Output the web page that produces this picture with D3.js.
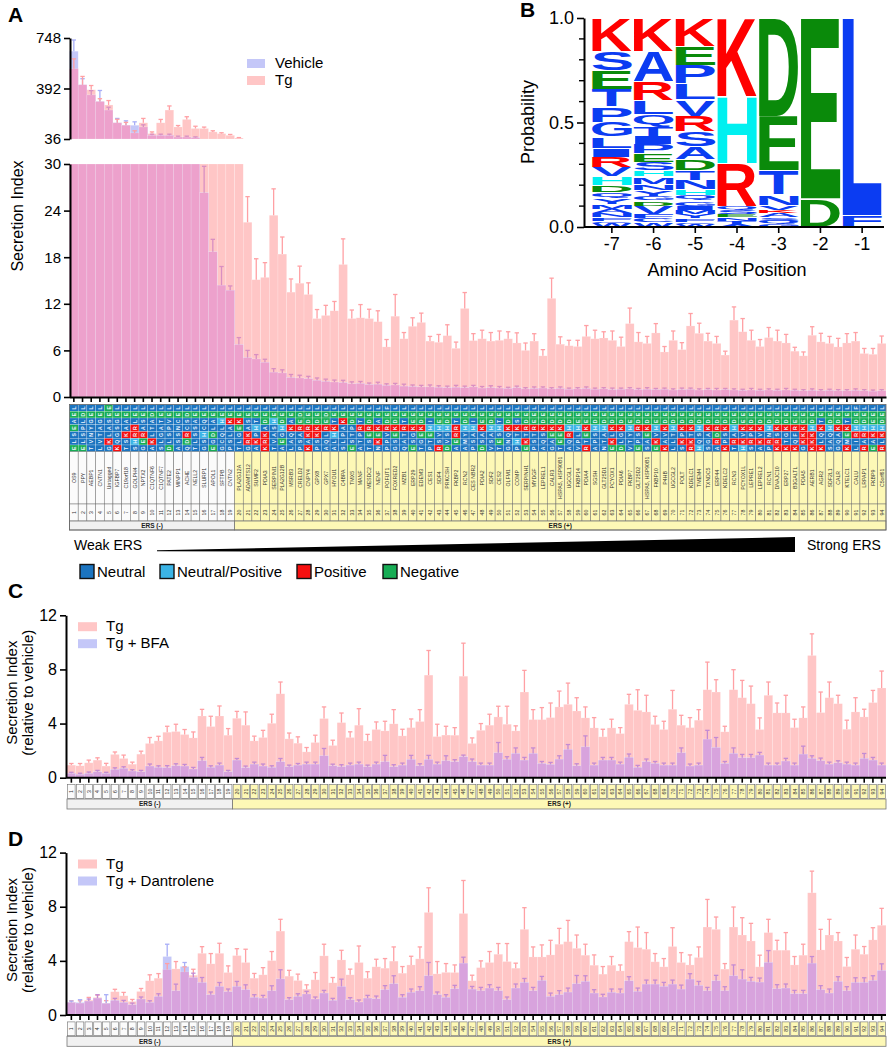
<!DOCTYPE html>
<html>
<head>
<meta charset="utf-8">
<script src="https://d3js.org/d3.v7.min.js"></script>
<style>
  html,body{margin:0;padding:0;background:#fff;}
  svg{display:block;}
  text{font-family:"Liberation Sans", Arial, Helvetica, sans-serif;}
</style>
</head>
<body>
<svg id="fig" width="891" height="1050"></svg>
<script>
// ================= DATA =================
const proteins = ["OS9","PPY","AEBP1","CNTN1","Untagged","IGFBP7","C19orf18","GOLPH4","NPTX2","C1QTNF6",
"C1QTNF7","PATE2","MINPP1","ACHE","NELL2","SLURP1","APOL1","SFTPB","CNTN2","PLA2G12A",
"ADAMTS12","SUMF2","PDIA3","SERPINI1","PLA2G12B","MSRB3","CRELD2","CNPY4","GPX8","GPX7",
"HYOU1","C4BPA","TMX5","MANF","MESDC2","NENF","POFUT1","FOXRED2","MZB1","ERP29",
"EDEM3","CES1","SDF4","PRKCSH","FKBP2","RCN2","CES NBR2","PDIA2","SDF2","CES2",
"OLFM1","COMP","SERPINH1","MYDGF","LEPREL1","CALR3","HSPA5, HSP90B1","UGCGL1","FKBP14","PDIA4",
"SGSH","GLT25D1","PCYOX1","PDIA6","FKBP7","GLT25D2","HSPA5, HSP90B1","FKBP10","P4HB","UGCGL2",
"POLT","KDELC1","TMEM4","TXNDC5","ERP44","KDELC2","RCN3","PCYOX1L","LEPRE1","LEPREL2",
"RCN1","DNAJC10","ERP27","B3GALTL","PDIA5","AERB1","AGR2","SDF2L1","CALR","KTELC1",
"CALU","LRPAP1","FKBP9","C5orf61"];
const ersNegativeCount = 19;
const ersLabels = ["ERS (-)", "ERS (+)"];

// C-terminal residues -7 ... -1
const sequences = ["ELSEAEL","ELSPLDL","TVNYGEL","LVTAGEL","GKLASEE","KQGSGEL","TSKAAEL","SHRRLEL","GERASEL","AKLTADL",
"SLGATEL","DLSPVEL","ASSNCEL","QDRCSDL","TLSSAEL","GSHCQEL","EGDLAEL","GCQLHEL","PSLAKEL","TLGEKEL",
"GRKASEL","AKPHTEL","KRKADEL","TVASHEL","AEGHDEL","LAQKAEL","PSAREDL","KAKRDEL","PSKKDEL","AQLREDL",
"ALHKTEL","SLPAKEL","ESTPDEL","ATPRTEL","TSERDEL","NKEKAEL","PPVRDEF","GSEKDEL","QATRTEL","ESGKEEL",
"TGEKDEL","PTEHIEL","RSVHEEL","DVSHDEL","AERRTEL","AMYHDEL","PSAHIEL","DSAKEEL","VSAHDEL","TESHTEL",
"GNQKDEL","PHTKSEL","EKTRDEL","PSTREEL","AQSKDEL","GAEKDEL","TEEKDEL","AQRHDEL","VPLHEEL","RTEKEEL",
"APSHDEL","NTAHDEL","EKLKDEL","DLGKDEL","VTYHEEL","EPSRDEL","SAEKDEL","EKVHEEL","KAVKDEL","LLTHDEL",
"SKPKDEL","RKTKDEL","HQSHDEL","SGAKDEL","ARDRDEL","KPSKDEL","TRAHDEL","HKVKEEL","SRPKDEL","AKVKDEL",
"PRNHDEL","KRSKDEL","KTGKDEL","KQFREEL","GKKKEEL","KKKHDEL","KLQKTEL","SAQHDEL","GQAKDEL","KMEKTEL",
"LIRHDEF","RARHDEL","EAKHEEL","RLKHDEL"];

// Panel A: secretion index (vehicle / Tg)
const vehicle = [655,418,347,300,240,150,133,133,121,62,
 62,62,50,50,46,26.3,18.7,14.4,13.75,6.75,
 5.07,4.9,4.47,3.2,3.1,2.5,2.45,2.36,2.15,2.0,
 1.93,1.85,1.7,1.75,1.6,1.65,1.5,1.55,1.4,1.35,
 1.3,1.3,1.25,1.2,1.25,1.2,1.3,1.15,1.2,1.15,
 1.1,1.2,1.05,1.1,1.15,1.05,1.1,1.0,1.05,1.1,
 1.0,1.05,0.95,1.0,1.05,0.95,1.0,0.95,1.0,0.9,
 0.95,1.0,0.9,0.95,0.9,0.95,0.9,0.85,0.9,0.85,
 0.9,0.85,0.9,0.85,0.8,0.85,0.8,0.85,0.8,0.8,
 0.85,0.8,0.75,0.8];
const vehicleErr = [79,43,30,78,20,31,31,24,15,8,
 8,8,6,6,5,3.4,1.6,2.4,0.55,0.9,
 0.93,0.56,0.39,0.45,0.4,0.4,0.35,0.3,0.3,0.3,
 0.25,0.3,0.25,0.25,0.2,0.25,0.2,0.2,0.25,0.2,
 0.2,0.25,0.2,0.2,0.25,0.2,0.2,0.2,0.25,0.2,
 0.15,0.2,0.15,0.2,0.15,0.15,0.2,0.15,0.15,0.2,
 0.15,0.15,0.2,0.15,0.15,0.15,0.2,0.15,0.15,0.15,
 0.2,0.15,0.15,0.15,0.2,0.15,0.15,0.15,0.2,0.15,
 0.15,0.15,0.2,0.15,0.15,0.2,0.15,0.15,0.15,0.15,
 0.2,0.15,0.15,0.15];
const tg = [532,418,383,300,276,150,133,79,150,74,
 150,240,121,174,110,110,86,74,62,43,
 22.5,15.1,15.4,23.4,18.4,13.5,14.65,13.2,10.1,10.5,
 11.1,17.06,10.1,10.2,10.1,9.7,6.45,10.4,7.5,9.1,
 9.6,7.2,7.05,7.9,6.27,11.4,7.26,7.5,7.2,7.3,
 7.5,6.96,6.0,7.2,5.3,12.7,6.8,6.6,6.5,7.8,
 7.5,7.6,7.3,6.5,9.45,7.1,6.9,8.25,5.8,7.3,
 6.1,9.15,8.2,7.2,6.9,5.4,9.9,8.4,7.3,6.5,
 7.65,7.2,6.96,5.9,5.3,7.95,7.1,6.9,6.45,6.96,
 7.2,5.6,5.5,6.9];
const tgErr = [69,59,30,20,31,25,20,15,31,12,
 24,29,10,19,16,10,8,6,6,3,
 3.3,2.7,1.9,3.4,2.2,1.7,2.2,1.5,1.16,1.3,
 1.2,3.3,1.1,1.7,1.2,1.4,0.95,2.8,0.8,1.1,
 1.2,0.6,1.0,1.4,0.8,2.05,0.9,1.1,1.1,1.2,
 0.9,1.3,0.95,0.95,0.8,2.6,0.95,0.7,0.8,1.4,
 1.1,0.8,1.2,1.2,2.0,1.2,0.9,1.2,0.7,1.2,
 0.9,1.6,1.3,1.0,0.9,0.5,1.7,1.7,1.3,0.9,
 1.3,1.4,1.1,0.5,0.5,1.1,1.1,0.9,1.1,1.2,
 1.1,0.65,0.75,0.95];

// Panels C & D: secretion index relative to vehicle
const tgRel = [0.93,0.88,1.10,1.30,0.86,1.72,1.42,1.00,1.74,2.53,
 2.72,3.36,3.41,3.19,2.94,4.56,3.78,4.56,3.14,4.39,
 3.88,2.72,2.97,4.02,6.20,2.87,2.55,1.91,2.60,4.37,
 2.38,4.07,2.97,3.88,2.72,3.56,3.46,3.98,3.09,3.70,
 4.15,7.58,3.04,3.15,3.14,7.50,2.53,3.50,3.88,4.49,
 3.95,3.46,6.33,4.29,4.29,4.44,5.23,5.42,4.93,4.42,
 3.68,3.02,3.68,3.26,5.42,4.98,4.86,3.93,3.56,5.06,
 3.88,3.70,4.25,6.50,6.33,3.39,6.50,5.91,5.47,3.56,
 6.09,4.79,4.79,3.70,4.42,9.03,4.81,5.91,5.47,3.58,
 4.86,4.49,5.55,6.63];
const tgRelErr = [0.12,0.17,0.2,0.17,0.2,0.18,0.25,0.15,0.22,0.44,
 0.34,0.44,0.54,0.37,0.44,0.49,0.76,0.74,0.49,0.51,
 0.98,0.35,0.53,0.67,0.87,0.43,0.47,0.32,0.54,0.86,
 0.39,0.71,0.42,1.22,0.48,0.56,0.71,1.05,0.49,0.64,
 0.88,1.82,0.91,0.65,0.56,2.44,0.41,0.5,0.81,0.79,
 1.33,0.37,1.6,0.74,0.89,1.08,1.17,1.57,0.98,0.81,
 0.76,0.56,0.64,0.44,0.74,1.52,1.23,0.61,0.61,1.39,
 0.73,0.74,0.78,2.04,0.91,0.41,1.48,1.28,1.3,0.86,
 0.98,0.73,1.3,0.62,0.81,1.6,1.52,1.16,0.62,0.67,
 1.05,0.57,0.9,1.25];
const bfa = [0.32,0.25,0.32,0.44,0.32,0.61,0.69,0.49,0.44,0.86,
 0.76,0.74,0.88,0.86,0.64,1.25,0.76,0.93,0.44,1.30,
 0.74,1.00,0.86,0.76,1.18,0.81,0.93,1.00,1.00,1.62,
 0.88,0.81,0.93,1.00,0.81,1.00,1.18,0.81,0.93,1.35,
 0.88,1.35,1.00,1.25,1.18,1.55,1.18,0.93,0.93,1.84,
 1.35,1.79,1.30,1.79,1.05,0.98,1.37,2.09,0.88,2.28,
 0.93,1.30,1.30,1.00,1.50,0.76,1.18,1.05,0.93,0.93,
 1.84,0.86,0.93,2.85,2.23,1.05,1.79,1.47,1.47,1.67,
 0.93,0.93,1.23,0.93,1.74,1.42,1.25,1.00,1.10,1.00,
 0.93,1.42,1.30,0.93];
const bfaErr = [0.08,0.08,0.1,0.1,0.08,0.12,0.12,0.1,0.1,0.15,
 0.12,0.15,0.15,0.12,0.12,0.25,0.12,0.15,0.1,0.12,
 0.12,0.15,0.15,0.12,0.24,0.12,0.12,0.15,0.15,0.54,
 0.12,0.15,0.15,0.15,0.12,0.15,0.47,0.15,0.15,0.3,
 0.15,0.3,0.15,0.37,0.15,0.12,0.2,0.15,0.15,0.76,
 0.2,0.41,0.2,0.41,0.15,0.15,0.25,0.36,0.15,0.81,
 0.15,0.2,0.2,0.15,0.25,0.15,0.2,0.15,0.15,0.15,
 0.36,0.15,0.15,0.65,0.74,0.15,0.41,0.25,0.25,0.2,
 0.15,0.15,0.2,0.15,0.59,0.2,0.2,0.15,0.15,0.15,
 0.15,0.37,0.2,0.15];
const dant = [0.93,0.93,1.03,1.25,0.88,1.08,0.93,0.76,1.18,0.93,
 1.37,4.32,1.79,3.58,2.77,2.40,1.50,2.11,1.72,2.11,
 1.87,1.30,1.25,1.79,2.67,1.13,1.37,1.55,1.18,1.62,
 1.08,2.11,1.13,0.96,1.25,1.20,1.87,2.31,1.30,1.67,
 1.79,2.90,1.50,1.30,1.94,3.83,1.91,1.79,1.99,1.79,
 1.13,1.99,2.40,1.79,2.55,1.37,1.50,1.69,2.31,2.48,
 1.62,1.33,1.67,1.62,2.53,1.74,2.28,2.28,2.11,2.28,
 1.91,2.65,2.18,1.79,2.53,1.79,2.90,2.65,2.48,2.43,
 3.88,1.94,1.99,1.57,1.57,3.83,1.87,1.62,2.48,1.79,
 2.40,2.40,2.55,3.29];
const dantErr = [0.1,0.2,0.15,0.25,0.62,0.15,0.15,0.12,0.15,0.12,
 0.2,0.91,0.49,0.3,0.32,0.37,0.2,0.29,0.2,0.37,
 0.36,0.2,0.2,0.37,0.67,0.15,0.2,0.2,0.15,0.2,
 0.15,0.54,0.15,0.15,0.2,0.2,0.3,0.59,0.2,0.25,
 0.3,0.98,0.2,0.2,0.25,0.44,0.2,0.25,0.25,0.25,
 0.2,0.3,0.3,0.25,0.3,0.25,0.3,0.3,0.61,0.42,
 0.25,0.2,0.25,0.3,0.3,0.25,0.3,0.3,0.3,0.3,
 0.3,0.4,0.3,0.25,0.4,0.3,0.8,0.69,0.3,0.3,
 0.88,0.3,0.3,0.25,0.25,0.49,0.3,0.3,0.35,0.3,
 0.35,0.35,0.35,0.49];

const topTicks = [36, 392, 748];
const lowTicks = [0, 6, 12, 18, 24, 30];
const relTicks = [0, 4, 8, 12];

// Panel B: sequence logo, letters listed top -> bottom with probabilities
const logoPositions = [-7, -6, -5, -4, -3, -2, -1];
const logoM7 = [["K",.16],["S",.09],["E",.09],["T",.085],["P",.075],["G",.07],["L",.055],["I",.04],["R",.05],["V",.045],["H",.04],["D",.035],["Q",.03],["Y",.025],["M",.025],["A",.02],["N",.02],["F",.015],["C",.01],["W",.02]];
const logoM6 = [["K",.16],["A",.145],["R",.09],["L",.065],["Q",.06],["T",.045],["I",.04],["P",.045],["E",.04],["S",.04],["H",.03],["M",.035],["N",.03],["Y",.03],["G",.02],["D",.025],["V",.04],["F",.02],["C",.02],["W",.02]];
const logoM5 = [["K",.135],["E",.09],["P",.09],["L",.075],["V",.08],["R",.075],["S",.07],["A",.06],["D",.055],["T",.045],["N",.045],["H",.03],["Q",.025],["G",.025],["I",.02],["M",.02],["Y",.02],["F",.015],["C",.01],["W",.015]];
const logoM4 = [["K",.375],["H",.32],["R",.205],["Q",.02],["S",.02],["E",.015],["N",.015],["T",.015],["A",.015]];
const logoM3 = [["D",.47],["E",.26],["T",.115],["N",.05],["V",.025],["K",.015],["A",.02],["S",.015],["Q",.015],["G",.015]];
const logoM2 = [["E",.865],["D",.135]];
const logoM1 = [["L",.945],["F",.055]];
const logoTicksMajor = [0, 0.5, 1.0];
const logoTicksMinor = [0.1,0.2,0.3,0.4,0.6,0.7,0.8,0.9];

const aaClasses = ["Neutral","Neutral/Positive","Positive","Negative"];

// ================= STYLE =================
const FF = '"Liberation Sans", Arial, Helvetica, sans-serif';
const C = {
  tg:"#ffc6c6", veh:"#c4c7f8", overlapA:"#eda1cc", overlapC:"#d8a3dd",
  tgErr:"#ffa0a4", vehErr:"#a8aef7", purpErr:"#c48bd3",
  aa:{"Neutral":"#1b74c0","Neutral/Positive":"#3bb4e6","Positive":"#f70f0f","Negative":"#17ad55"},
  yellow:"#fdf8b6", ersNeg:"#f1f1f1", grid:"#6f6f6f"
};
const logoColor = ch => "KR".includes(ch) ? "#ff0000" : ch==="H" ? "#00f0f0" : "DE".includes(ch) ? "#0a8a0a" : "#0b3cf2";
const aaClass = ch => "KR".includes(ch) ? "Positive" : ch==="H" ? "Neutral/Positive" : "DE".includes(ch) ? "Negative" : "Neutral";

const svg = d3.select("#fig");
const N = proteins.length;
const ids = d3.range(1, N+1);
const idx = d3.range(N);

function styleAxis(sel, size){
  sel.select(".domain").attr("stroke","#000").attr("stroke-width",2);
  sel.selectAll(".tick line").attr("stroke","#000").attr("stroke-width",1.6);
  sel.selectAll(".tick text").attr("font-size",size).attr("fill","#000").attr("font-family",FF);
}
function txt(g, x, y, s, size, opt={}){
  const t = g.append("text").attr("x",x).attr("y",y).attr("font-size",size).attr("fill",opt.fill||"#000").text(s);
  if(opt.anchor) t.attr("text-anchor",opt.anchor);
  if(opt.weight) t.attr("font-weight",opt.weight);
  if(opt.rotate) t.attr("transform",`rotate(${opt.rotate},${x},${y})`);
  if(opt.baseline) t.attr("dominant-baseline",opt.baseline);
  return t;
}
function pairedBars(g, x, y, base, cap, back, front, cBack, cFront, cBoth){
  const layer = (valOf, color) => g.append("g").selectAll("rect")
    .data(idx.filter(i => valOf(i) > base)).join("rect")
    .attr("x", i => x(i+1)).attr("width", x.bandwidth())
    .attr("y", i => y(valOf(i))).attr("height", i => y(base) - y(valOf(i)))
    .attr("fill", color).attr("stroke","rgba(255,255,255,0.35)").attr("stroke-width",0.5);
  const b = i => Math.min(back[i], cap), f = i => Math.min(front[i], cap);
  layer(b, cBack); layer(f, cFront); layer(i => Math.min(b(i), f(i)), cBoth);
}
function errorBars(g, x, y, base, cap, vals, errs, colorOf){
  const sel = idx.filter(i => vals[i] > base && vals[i] < cap);
  const cx = i => x(i+1) + x.bandwidth()/2;
  const top = i => Math.min(vals[i] + errs[i], cap);
  g.append("g").selectAll("line").data(sel).join("line")
    .attr("x1",cx).attr("x2",cx).attr("y1",i=>y(vals[i])).attr("y2",i=>y(top(i)))
    .attr("stroke",colorOf).attr("stroke-width",1.3);
  g.append("g").selectAll("line").data(sel.filter(i => vals[i]+errs[i] <= cap)).join("line")
    .attr("x1",i=>cx(i)-2.2).attr("x2",i=>cx(i)+2.2).attr("y1",i=>y(top(i))).attr("y2",i=>y(top(i)))
    .attr("stroke",colorOf).attr("stroke-width",1.3);
}
function indexTable(g, x, yTop, yMid, yBot, boxed){
  const bw = x.bandwidth();
  const isNeg = i => i < ersNegativeCount;
  // number cells
  g.append("g").selectAll("rect").data(idx).join("rect")
    .attr("x", i => x(i+1) + (boxed?0.6:0)).attr("width", bw - (boxed?1.2:0))
    .attr("y", yTop + (boxed?0.6:0)).attr("height", yMid - yTop - (boxed?1.2:0))
    .attr("fill", i => isNeg(i) ? "#fbfbfb" : C.yellow)
    .attr("stroke", C.grid).attr("stroke-width", boxed?0.6:0.5);
  g.append("g").selectAll("text").data(idx).join("text")
    .attr("transform", i => `translate(${x(i+1)+bw/2},${(yTop+yMid)/2}) rotate(-90)`)
    .attr("text-anchor","middle").attr("dominant-baseline","central")
    .attr("font-size",5.2).attr("fill","#333").text(i => ids[i]);
  // ERS rows
  const groups = [[0, ersNegativeCount-1],[ersNegativeCount, N-1]];
  groups.forEach((gr,k) => {
    const x0 = x(gr[0]+1), x1 = x(gr[1]+1) + bw;
    g.append("rect").attr("x",x0).attr("y",yMid).attr("width",x1-x0).attr("height",yBot-yMid)
      .attr("fill", k===0 ? C.ersNeg : C.yellow).attr("stroke","#777").attr("stroke-width",0.8);
    txt(g, (x0+x1)/2, yMid + (yBot-yMid)/2 + 2.3, ersLabels[k], 6.5, {anchor:"middle", weight:"bold", fill:"#222"});
  });
}

// ================= PANEL A =================
const gA = svg.append("g");
const xA = d3.scaleBand().domain(ids).range([69.5, 886]);
const yTop = d3.scaleLinear().domain([36, 748]).range([139, 38]);
const yLow = d3.scaleLinear().domain([0, 30]).range([397, 164]);
const errColA = (vals, other, base) => i => (vals[i] < other[i] ? "#d98fc2" : base);

pairedBars(gA, xA, yTop, 36, 748, tg, vehicle, C.tg, C.veh, C.overlapA);
errorBars(gA, xA, yTop, 36, 748, vehicle, vehicleErr, errColA(vehicle, tg, C.vehErr));
errorBars(gA, xA, yTop, 36, 748, tg, tgErr, C.tgErr);
pairedBars(gA, xA, yLow, 0, 30, tg, vehicle, C.tg, C.veh, C.overlapA);
errorBars(gA, xA, yLow, 0, 30, vehicle, vehicleErr, errColA(vehicle, tg, C.vehErr));
errorBars(gA, xA, yLow, 0, 30, tg, tgErr, C.tgErr);

gA.append("g").attr("transform","translate(70,0)")
  .call(d3.axisLeft(yTop).tickValues(topTicks).tickSize(6).tickSizeOuter(0).tickPadding(3))
  .call(s => styleAxis(s, 15));
gA.append("g").attr("transform","translate(70,0)")
  .call(d3.axisLeft(yLow).tickValues(lowTicks).tickSize(6).tickSizeOuter(0).tickPadding(3))
  .call(s => styleAxis(s, 15));
gA.append("g").attr("transform","translate(0,397)")
  .call(d3.axisBottom(xA).tickSize(5).tickSizeOuter(0).tickFormat(""))
  .call(s => styleAxis(s, 10));

txt(gA, 8, 22, "A", 21, {weight:"bold"});
txt(gA, 23, 216, "Secretion Index", 16, {anchor:"middle", rotate:-90});
// legend A
[["Vehicle", C.veh, 59],["Tg", C.tg, 76]].forEach(([lab,col,y]) => {
  gA.append("rect").attr("x",247).attr("y",y).attr("width",18).attr("height",9).attr("fill",col);
  txt(gA, 275, y+9, lab, 15);
});

// ---- sequence table ----
const gT = svg.append("g");
const bwA = xA.bandwidth();
const seqTop = 404.5, rowH = 6.75, nameTop = seqTop + 7*rowH, nameBot = 504;
const cells = [];
idx.forEach(i => d3.range(7).forEach(r => cells.push({i, r, ch: sequences[i][6-r]})));
gT.append("g").selectAll("rect").data(cells).join("rect")
  .attr("x", d => xA(d.i+1)).attr("y", d => seqTop + d.r*rowH)
  .attr("width", bwA).attr("height", rowH)
  .attr("fill", d => C.aa[aaClass(d.ch)]).attr("stroke","rgba(255,255,255,0.55)").attr("stroke-width",0.4);
gT.append("g").selectAll("text").data(cells).join("text")
  .attr("transform", d => `translate(${xA(d.i+1)+bwA/2},${seqTop + d.r*rowH + rowH/2}) rotate(-90)`)
  .attr("text-anchor","middle").attr("dominant-baseline","central")
  .attr("font-size",5.2).attr("font-weight","bold").attr("fill","#eef4ff").text(d => d.ch);
// names
gT.append("g").selectAll("rect").data(idx).join("rect")
  .attr("x", i => xA(i+1)).attr("y", nameTop).attr("width", bwA).attr("height", nameBot-nameTop)
  .attr("fill", i => i < ersNegativeCount ? "#fbfbfb" : C.yellow)
  .attr("stroke", C.grid).attr("stroke-width",0.5);
gT.append("g").selectAll("text").data(idx).join("text")
  .attr("transform", i => `translate(${xA(i+1)+bwA/2},${(nameTop+nameBot)/2}) rotate(-90)`)
  .attr("text-anchor","middle").attr("dominant-baseline","central")
  .attr("font-size",5.2).attr("fill","#333").text(i => proteins[i]);
indexTable(gT, xA, nameBot, 521, 530, false);
gT.append("rect").attr("x",xA(1)).attr("y",seqTop).attr("width",xA(N)+bwA-xA(1)).attr("height",530-seqTop)
  .attr("fill","none").attr("stroke","#666").attr("stroke-width",0.8);

// Weak/Strong ERS wedge
txt(svg, 74, 550, "Weak ERS", 14);
txt(svg, 807, 550, "Strong ERS", 14);
svg.append("path").attr("d", d3.line()([[157,550.3],[795,537],[795,552],[157,551.3]]) + "Z").attr("fill","#000");

// amino-acid class legend
const aaLegendX = [80, 160, 297, 383];
aaClasses.forEach((cl,k) => {
  svg.append("rect").attr("x",aaLegendX[k]).attr("y",564.5).attr("width",14).attr("height",14)
    .attr("fill",C.aa[cl]).attr("stroke","#111").attr("stroke-width",1.4);
  txt(svg, aaLegendX[k]+17, 577, cl, 15);
});

// ================= PANEL B (logo) =================
const gB = svg.append("g");
const xB = d3.scaleBand().domain(logoPositions).range([591, 883]);
const yB = d3.scaleLinear().domain([0,1]).range([227, 18]);
const logoData = [logoM7, logoM6, logoM5, logoM4, logoM3, logoM2, logoM1];
const ctx = document.createElement("canvas").getContext("2d");
ctx.font = 'bold 100px "Liberation Sans"';
function glyph(ch, x0, y0, w, h, color){
  const m = ctx.measureText(ch);
  const L = m.actualBoundingBoxLeft, R = m.actualBoundingBoxRight;
  const A = m.actualBoundingBoxAscent, D = m.actualBoundingBoxDescent;
  const sx = w/(L+R), sy = h/(A+D);
  gB.append("text")
    .attr("transform", `translate(${x0},${y0}) scale(${sx},${sy}) translate(${L},${A})`)
    .attr("font-size",100).attr("font-weight","bold").attr("fill",color)
    .style("font-family",'"Liberation Sans"').text(ch);
}
logoPositions.forEach((p,k) => {
  let cum = 1;
  logoData[k].forEach(([ch,prob]) => {
    const yTopPx = yB(cum), yBotPx = yB(cum - prob);
    const h = yBotPx - yTopPx;
    const gap = h > 4 ? 0.9 : 0.3;
    glyph(ch, xB(p)+1, yTopPx + gap/2, xB.bandwidth()-2, Math.max(h - gap, 0.4), logoColor(ch));
    cum -= prob;
  });
});
gB.append("g").attr("transform","translate(584,0)")
  .call(d3.axisLeft(yB).tickValues(logoTicksMajor).tickFormat(d3.format(".1f")).tickSize(7).tickSizeOuter(0).tickPadding(3))
  .call(s => styleAxis(s, 18));
gB.append("g").selectAll("line").data(logoTicksMinor).join("line")
  .attr("x1",579).attr("x2",584).attr("y1",d=>yB(d)).attr("y2",d=>yB(d))
  .attr("stroke","#000").attr("stroke-width",1.4);
gB.append("g").attr("transform","translate(0,227)")
  .call(d3.axisBottom(xB).tickSize(6).tickSizeOuter(0).tickPadding(4))
  .call(s => styleAxis(s, 18))
  .call(s => s.select(".domain").attr("d","M584,0H884"));
txt(gB, 727, 276, "Amino Acid Position", 18, {anchor:"middle"});
txt(gB, 534, 122, "Probability", 18, {anchor:"middle", rotate:-90});
txt(gB, 520, 17, "B", 21, {weight:"bold"});

// ================= PANELS C & D =================
const xC = d3.scaleBand().domain(ids).range([67, 886]);
function relPanel(y0, treat, treatErr, label, letter, letterY){
  const g = svg.append("g");
  const y = d3.scaleLinear().domain([0,12]).range([y0, y0-162.4]);
  pairedBars(g, xC, y, 0, 12, tgRel, treat, C.tg, C.veh, C.overlapC);
  errorBars(g, xC, y, 0, 12, tgRel, tgRelErr, C.tgErr);
  errorBars(g, xC, y, 0, 12, treat, treatErr, i => treat[i] < tgRel[i] ? C.purpErr : C.vehErr);
  g.append("g").attr("transform","translate(66,0)")
    .call(d3.axisLeft(y).tickValues(relTicks).tickSize(6).tickSizeOuter(0).tickPadding(3))
    .call(s => styleAxis(s, 16));
  g.append("g").attr("transform",`translate(0,${y0})`)
    .call(d3.axisBottom(xC).tickSize(5).tickSizeOuter(0).tickFormat(""))
    .call(s => styleAxis(s, 10))
    .call(s => s.select(".domain").attr("d","M66,0H886"));
  indexTable(g, xC, y0+6.3, y0+21.3, y0+31.3, true);
  const cy = y0 - 85;
  txt(g, 17, cy, "Secretion Index", 15, {anchor:"middle", rotate:-90});
  txt(g, 33, cy, "(relative to vehicle)", 15, {anchor:"middle", rotate:-90});
  txt(g, 8, letterY, letter, 21, {weight:"bold"});
  [["Tg", C.tg, y0-155.5],[label, C.veh, y0-138.5]].forEach(([lab,col,yy]) => {
    g.append("rect").attr("x",78).attr("y",yy).attr("width",19).attr("height",9).attr("fill",col);
    txt(g, 106, yy+9, lab, 15);
  });
}
relPanel(777.7, bfa, bfaErr, "Tg + BFA", "C", 598);
relPanel(1015, dant, dantErr, "Tg + Dantrolene", "D", 846);
</script>
</body>
</html>
